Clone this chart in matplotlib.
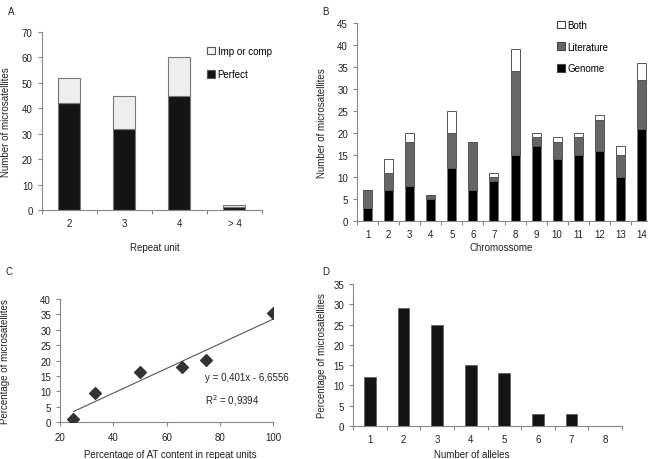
import matplotlib
matplotlib.use("Agg")
import matplotlib.pyplot as plt
from matplotlib.patches import Patch
import numpy as np

plt.rcParams['font.family'] = ['Liberation Sans', 'DejaVu Sans']
FS = 7.0
plt.rcParams['font.size'] = FS

# ---- Data ----
# Panel A
repeat_units = ["2", "3", "4", "> 4"]
perfect = [42, 32, 45, 1]
imp_or_comp = [10, 13, 15, 1]

# Panel B
chromosomes = [str(i) for i in range(1, 15)]
genome = [3, 7, 8, 5, 12, 7, 9, 15, 17, 14, 15, 16, 10, 21]
literature = [4, 4, 10, 1, 8, 11, 1, 19, 2, 4, 4, 7, 5, 11]
both = [0, 3, 2, 0, 5, 0, 1, 5, 1, 1, 1, 1, 2, 4]

# Panel C
at_content = [25, 33, 50, 66, 75, 100]
pct_micro = [1, 9.5, 16.3, 17.8, 20.2, 35.5]
fit_slope = 0.401
fit_intercept = -6.6556
fit_r2 = "0,9394"

# Panel D
alleles = ["1", "2", "3", "4", "5", "6", "7", "8"]
pct_alleles = [12, 29, 25, 15, 13, 3, 3, 0]

W, H = 648, 460
fig = plt.figure(figsize=(W / 100, H / 100), dpi=100)

spine_c = "#888888"
text_c = "#222222"


def style(ax):
    for s in ["top", "right"]:
        ax.spines[s].set_visible(False)
    for s in ["left", "bottom"]:
        ax.spines[s].set_color(spine_c)
        ax.spines[s].set_linewidth(0.8)
    ax.tick_params(axis="both", colors=spine_c, labelcolor=text_c,
                   direction="out", length=3, width=0.8, labelsize=FS)


def cat_ticks(ax, n):
    ax.set_xticks(np.arange(n))
    ax.set_xticks(np.arange(n + 1) - 0.5, minor=True)
    ax.tick_params(axis="x", which="major", length=0, pad=6)
    ax.tick_params(axis="x", which="minor", length=3, color=spine_c, width=0.8)


def ax_px(l, r, t, b):
    return fig.add_axes([l / W, 1 - b / H, (r - l) / W, (b - t) / H])


def labels(ax, box, ylab, ylab_right, xlab, xlab_cx, xlab_top):
    l, r, t, b = box
    ax.set_ylabel(ylab, color=text_c, fontsize=FS)
    ax.yaxis.set_label_coords((ylab_right - l) / (r - l), 0.5)
    ax.set_xlabel(xlab, color=text_c, fontsize=FS)
    ax.xaxis.set_label_coords((xlab_cx - l) / (r - l), -(xlab_top - b) / (b - t))


# ---- Panel A ----
boxA = (41.7, 262, 33, 211)
axA = ax_px(*boxA)
style(axA)
xA = np.arange(len(repeat_units))
axA.bar(xA, perfect, 0.4, color="#141414", edgecolor="#777777", linewidth=0.8, label="Perfect")
axA.bar(xA, imp_or_comp, 0.4, bottom=perfect, color="#eeeeee", edgecolor="#777777",
        linewidth=0.8, label="Imp or comp")
axA.set_xlim(-0.5, len(repeat_units) - 0.5)
axA.set_ylim(0, 70)
axA.set_yticks(np.arange(0, 71, 10))
cat_ticks(axA, len(repeat_units))
axA.set_xticklabels(repeat_units)
labels(axA, boxA, "Number of microsatellites", 11, "Repeat unit", 155, 243)
hA = [Patch(facecolor="#f4f4f4", edgecolor="#555555", linewidth=0.8),
      Patch(facecolor="#141414", edgecolor="#555555", linewidth=0.8)]
axA.legend(hA, ["Imp or comp", "Perfect"], loc="upper left",
           bbox_to_anchor=((203 - 41.7) / 220.3, (211 - 43) / 178),
           frameon=False, handlelength=0.8, handleheight=0.8, handletextpad=0.3,
           labelspacing=1.4, fontsize=FS, borderaxespad=0)
fig.text(8 / W, 1 - 12 / H, "A", fontsize=FS, color=text_c, va="center", ha="left")

# ---- Panel B ----
boxB = (357, 652, 24, 222)
axB = ax_px(*boxB)
style(axB)
xB = np.arange(len(chromosomes))
axB.bar(xB, genome, 0.43, color="#000000", edgecolor="#777777", linewidth=0.7, label="Genome")
bot2 = np.array(genome)
axB.bar(xB, literature, 0.43, bottom=bot2, color="#666666", edgecolor="#555555",
        linewidth=0.7, label="Literature")
bot3 = bot2 + np.array(literature)
axB.bar(xB, both, 0.43, bottom=bot3, color="#ffffff", edgecolor="#555555",
        linewidth=0.7, label="Both")
axB.set_xlim(-0.5, len(chromosomes) - 0.5)
axB.set_ylim(0, 45)
axB.set_yticks(np.arange(0, 46, 5))
cat_ticks(axB, len(chromosomes))
axB.set_xticklabels(chromosomes)
labels(axB, boxB, "Number of microsatellites", 327, "Chromossome", 501, 243)
hB = [Patch(facecolor="#ffffff", edgecolor="#444444", linewidth=0.8),
      Patch(facecolor="#666666", edgecolor="#444444", linewidth=0.8),
      Patch(facecolor="#000000", edgecolor="#444444", linewidth=0.8)]
axB.legend(hB, ["Both", "Literature", "Genome"], loc="upper left",
           bbox_to_anchor=((553 - 357) / 295, (222 - 17) / 198),
           frameon=False, handlelength=0.8, handleheight=0.8, handletextpad=0.3,
           labelspacing=1.2, fontsize=FS, borderaxespad=0)
fig.text(322 / W, 1 - 12 / H, "B", fontsize=FS, color=text_c, va="center", ha="left")

# ---- Panel C ----
boxC = (60, 273, 300, 423)
axC = ax_px(*boxC)
style(axC)
axC.scatter(at_content, pct_micro, marker="D", s=36, color="#333333", zorder=3)
xfit = np.array([min(at_content), max(at_content)])
axC.plot(xfit, fit_slope * xfit + fit_intercept, color="#555555", linewidth=0.8)
axC.set_xlim(20, 100)
axC.set_ylim(0, 40)
axC.set_yticks(np.arange(0, 41, 5))
axC.set_xticks(np.arange(20, 101, 20))
axC.tick_params(axis="x", pad=4)
labels(axC, boxC, "Percentage of microsatellites", 10,
       "Percentage of AT content in repeat units", 170, 450)
eq = "y = {:.3f}x - {:.4f}".format(fit_slope, -fit_intercept).replace(".", ",")
fig.text(205 / W, 1 - 378 / H, eq, fontsize=FS, color=text_c, va="center", ha="left")
fig.text(205 / W, 1 - 401 / H, "R$^2$ = " + fit_r2, fontsize=FS, color=text_c,
         va="center", ha="left")
fig.text(5 / W, 1 - 272 / H, "C", fontsize=FS, color=text_c, va="center", ha="left")

# ---- Panel D ----
boxD = (353, 622, 285, 427)
axD = ax_px(*boxD)
style(axD)
xD = np.arange(len(alleles))
axD.bar(xD, pct_alleles, 0.35, color="#141414", edgecolor="#666666", linewidth=0.7)
axD.set_xlim(-0.5, len(alleles) - 0.5)
axD.set_ylim(0, 35)
axD.set_yticks(np.arange(0, 36, 5))
cat_ticks(axD, len(alleles))
axD.set_xticklabels(alleles)
labels(axD, boxD, "Percentage of microsatellites", 327, "Number of alleles", 472, 450)
fig.text(322 / W, 1 - 272 / H, "D", fontsize=FS, color=text_c, va="center", ha="left")

fig.savefig("out.png", dpi=100)
